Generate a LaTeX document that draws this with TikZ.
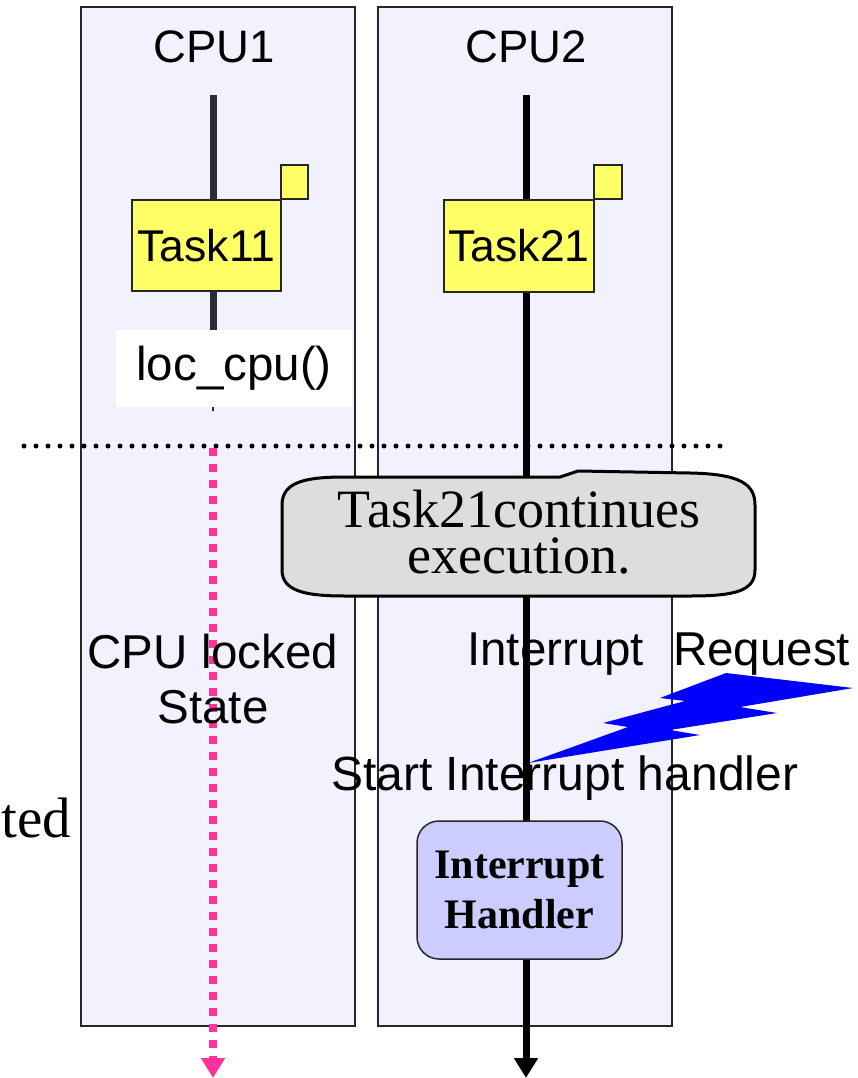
\documentclass[tikz,border=0pt]{standalone}
\usepackage{fontspec}
\setmainfont{Liberation Sans}
\newfontfamily\serif{Liberation Serif}
\usetikzlibrary{arrows.meta}
\definecolor{panelfill}{HTML}{F2F2FF}
\definecolor{taskyellow}{HTML}{FFFF66}
\definecolor{lockpink}{HTML}{FF3399}
\definecolor{handlerblue}{HTML}{CCCCFF}
\definecolor{calloutgray}{HTML}{DDDDDD}
\definecolor{lifegray}{HTML}{2B2B38}
\begin{document}
\begin{tikzpicture}[x=1pt,y=-1pt,
  panel/.style={draw=black!85,line width=1.5pt,fill=panelfill},
  taskbox/.style={draw=black!85,line width=1.5pt,fill=taskyellow,inner sep=0pt,
    font=\fontsize{44.5}{48}\selectfont},
  flagbox/.style={draw=black!85,line width=1.5pt,fill=taskyellow,inner sep=0pt},
  label/.style={inner sep=0pt,font=\fontsize{47.5}{52}\selectfont},
  life/.style={line width=7pt},
  tip/.style={-{Triangle[width=23pt,length=20pt]}},
]
\useasboundingbox (0,0) rectangle (858,1078);
\fill[white] (0,0) rectangle (858,1078);

% processor lanes
\draw[panel] (81,7) rectangle (355,1026);
\draw[panel] (378,7) rectangle (672,1026);
\node[label,font=\fontsize{45.5}{50}\selectfont,anchor=base] (cpu1) at (214,63) {CPU1};
\node[label,font=\fontsize{45.5}{50}\selectfont,anchor=base] (cpu2) at (526,63) {CPU2};

% lifelines
\coordinate (c1top) at (213,95);
\coordinate (c1low) at (213,335);
\coordinate (c2top) at (526,95);
\coordinate (c2end) at (526,1078);
\draw[life,lifegray] (c1top) -- (c1low);
\draw[life,black,tip] (c2top) -- (c2end);

% tasks
\node[taskbox,minimum width=149pt,minimum height=91pt] (t11) at (206.5,245.5) {Task11};
\node[flagbox,minimum width=27pt,minimum height=34pt] (f11) at (294.5,182) {};
\node[taskbox,minimum width=150pt,minimum height=92pt] (t21) at (519,246) {Task21};
\node[flagbox,minimum width=28pt,minimum height=34pt] (f21) at (608,182) {};

% service call
\node[fill=white,inner sep=0pt,minimum width=236pt,minimum height=77pt,
  font=\fontsize{47.5}{50}\selectfont] (loc) at (234,368.5) {loc\_cpu()};
\coordinate (tk1) at (213,407);
\coordinate (tk2) at (213,411);
\draw[line width=1.2pt,lifegray] (tk1) -- (tk2);

% boundary line
\coordinate (dl) at (24,446);
\coordinate (dr) at (720,446);
\draw[line width=5pt,line cap=round,dash pattern=on 0pt off 12pt] (dl) -- (dr);

% CPU locked state
\coordinate (p1) at (213,448);
\coordinate (p2) at (213,1078);
\draw[line width=8pt,lockpink,dash pattern=on 8pt off 8pt,tip] (p1) -- (p2);

% callout
\draw[line width=3pt,fill=calloutgray]
  (282,505) .. controls (282,482) and (305,477) .. (345,477) -- (560,477)
  -- (578,471) -- (690,473) .. controls (740,474) and (755,484) .. (755,505)
  -- (755,570) .. controls (755,591) and (735,596) .. (690,596)
  -- (345,596) .. controls (305,596) and (282,591) .. (282,570) -- cycle;
\node[inner sep=0pt,anchor=base,font=\serif\fontsize{54}{46}\selectfont] (note1) at (519,527)
  {Task21continues};
\node[inner sep=0pt,anchor=base,font=\serif\fontsize{54}{46}\selectfont] (note2) at (519,573)
  {execution.};

% state labels
\node[label,anchor=base] (lock1) at (213,668) {CPU locked};
\node[label,anchor=base] (lock2) at (213,723) {State};
\node[label,anchor=base west] (irq1) at (467,665) {Interrupt};
\node[label,anchor=base west] (irq2) at (673,665) {Request};

% interrupt request bolt
\fill[blue] (528,763) -- (628,727) -- (603,723) -- (685,701) -- (660,698)
  -- (726,673) -- (853,688) -- (740,707) -- (777,713) -- (670,730)
  -- (700,735) -- cycle;

\node[label,font=\fontsize{48}{50}\selectfont,anchor=base west] (start) at (331,790)
  {Start Interrupt handler};
\node[inner sep=0pt,anchor=base east,font=\serif\fontsize{57}{60}\selectfont] (ted) at (71,837) {ted};

% handler
\node[draw=black!85,line width=1.5pt,fill=handlerblue,rounded corners=22pt,
  minimum width=205pt,minimum height=138pt,inner sep=0pt,align=center,
  font=\serif\bfseries\fontsize{42}{50}\selectfont] (ih) at (519.5,890)
  {Interrupt\\Handler};
\end{tikzpicture}
\end{document}
